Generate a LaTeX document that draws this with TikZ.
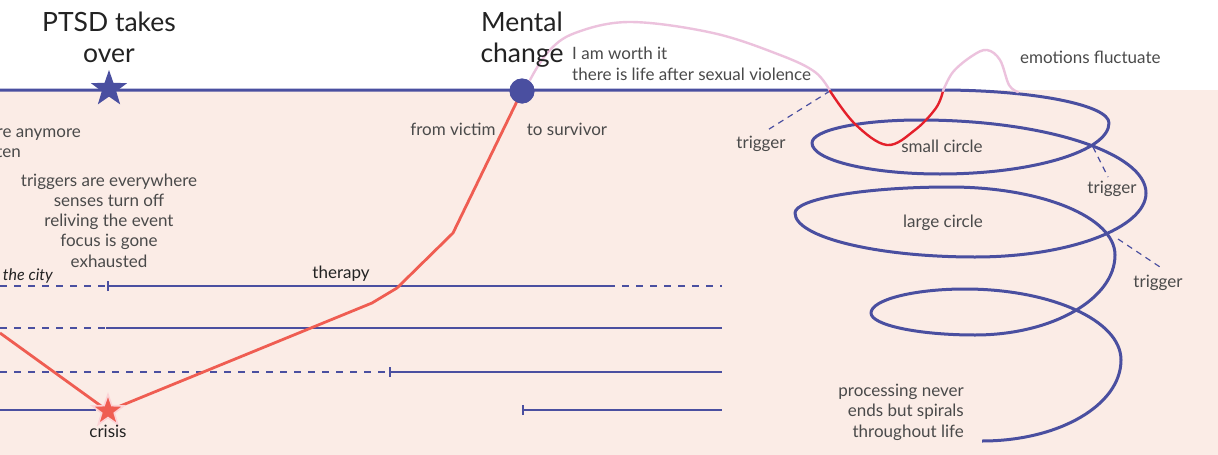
\documentclass[tikz,border=0pt]{standalone}
\usepackage{fontspec}
\setmainfont{Lato}
\usetikzlibrary{shapes.geometric}
\definecolor{ink}{HTML}{4A4A4A}
\definecolor{headink}{HTML}{222222}
\definecolor{navy}{HTML}{4A4FA0}
\definecolor{coral}{HTML}{EF5D52}
\definecolor{blush}{HTML}{FBECE6}
\definecolor{mauve}{HTML}{ECC2DD}
\definecolor{alarm}{HTML}{E4202B}
\definecolor{halo}{HTML}{FBD3D6}
\begin{document}
\begin{tikzpicture}[x=1pt,y=-1pt,
  lbl/.style={font=\fontsize{17}{20.3}\selectfont, text=ink, inner sep=0pt},
  darklbl/.style={lbl, text=headink},
  title/.style={font=\fontsize{26.5}{31}\selectfont, text=headink, align=center, inner sep=0pt},
  track/.style={navy, line width=1.6pt},
  trackdash/.style={track, dash pattern=on 7pt off 7pt},
  tickmark/.style={navy, line width=1.8pt},
  triggerline/.style={navy, line width=1.2pt, dash pattern=on 6pt off 5pt},
  coil/.style={navy, line width=3pt, line join=round},
  pathway/.style={coral, line width=2.8pt, line join=round},
  moodup/.style={mauve, line width=2.4pt, line cap=round},
  mooddown/.style={alarm, line width=2.4pt, line cap=round},
  starmark/.style={star, star points=5, star point ratio=2.5, inner sep=0pt},
]
% canvas and backgrounds
\useasboundingbox (0,0) rectangle (1218,455);
\fill[white] (0,0) rectangle (1218,455);
\fill[blush] (0,90) rectangle (1218,455);

% timeline tracks
\coordinate (t1a) at (0,286);   \coordinate (t1b) at (108,286);
\coordinate (t1c) at (608,286); \coordinate (t1d) at (722,286);
\coordinate (t2a) at (0,328);   \coordinate (t2b) at (106,328);
\coordinate (t2c) at (722,328);
\coordinate (t3a) at (0,372);   \coordinate (t3b) at (390,372);
\coordinate (t3c) at (722,372);
\coordinate (t4a) at (0,410);   \coordinate (t4b) at (96,410);
\coordinate (t4c) at (523,410); \coordinate (t4d) at (722,410);
\draw[trackdash] (t1a) -- (t1b);
\draw[track] (t1b) -- (t1c);
\draw[trackdash] (t1c) -- (t1d);
\draw[tickmark] ([yshift=-5pt]t1b) -- ([yshift=5pt]t1b);
\draw[trackdash] (t2a) -- (t2b);
\draw[track] (t2b) -- (t2c);
\draw[trackdash] (t3a) -- (t3b);
\draw[track] (t3b) -- (t3c);
\draw[tickmark] ([yshift=-5pt]t3b) -- ([yshift=5pt]t3b);
\draw[track] (t4a) -- (t4b);
\draw[track] (t4c) -- (t4d);
\draw[tickmark] ([yshift=-5pt]t4c) -- ([yshift=5pt]t4c);

% baseline that winds into the coil
\coordinate (lineStart) at (0,90);
\coordinate (coilEnd) at (982,441);
\draw[coil] (lineStart) -- (940,90)
  .. controls (1033,90) and (1109,105) .. (1109,123)
  .. controls (1109,151) and (1033,174) .. (940,174)
  .. controls (869,174) and (812,160) .. (812,143)
  .. controls (812,130) and (860,120) .. (920,120)
  .. controls (1045,120) and (1146,153) .. (1146,193)
  .. controls (1146,228) and (1069,257) .. (975,257)
  .. controls (876,257) and (795,237) .. (795,213)
  .. controls (795,199) and (864,187) .. (950,187)
  .. controls (1041,187) and (1115,217) .. (1115,255)
  .. controls (1115,299) and (1052,335) .. (975,335)
  .. controls (918,335) and (871,325) .. (871,313)
  .. controls (871,300) and (913,289) .. (965,289)
  .. controls (1050,289) and (1121,320) .. (1121,360)
  .. controls (1121,405) and (1059,441) .. (coilEnd);

% trigger leaders
\coordinate (trgA) at (830,91);
\coordinate (trgB) at (1093,147);
\coordinate (trgC) at (1118,239);
\node[lbl, anchor=base] (trigger1) at (761,148) {trigger};
\node[lbl, anchor=base] (trigger2) at (1112,193) {trigger};
\node[lbl, anchor=base] (trigger3) at (1158,287) {trigger};
\draw[triggerline] (trgA) -- (766,131);
\draw[triggerline] (trgB) -- (1108,177);
\draw[triggerline] (trgC) -- (1160,267);

% recovery pathway
\coordinate (crisisPt) at (108,411);
\node[circle, fill=navy, minimum size=25pt, inner sep=0pt] (mental) at (522,91) {};
\draw[pathway] (0,333) -- (crisisPt) -- (372,303) -- (397,288) -- (453,233) -- (mental.center);
\node[starmark, fill=coral, draw=halo, line width=1.6pt, minimum size=33pt] (crisis) at (crisisPt) {};
\node[circle, fill=navy, minimum size=25pt, inner sep=0pt] at (mental) {};
\node[starmark, fill=navy, minimum size=38pt] (ptsd) at (109,89) {};

% emotional swings above and below the line
\draw[moodup] plot[smooth, tension=0.6] coordinates
  {(530,80) (548,52) (575,33) (630,22) (713,33) (780,55) (815,72) (830,91)};
\draw[mooddown] plot[smooth, tension=0.6] coordinates
  {(830,91) (855,124) (887,145) (915,130) (936,108) (943,91)};
\draw[moodup] plot[smooth, tension=0.6] coordinates
  {(943,91) (953,72) (972,56) (987,50) (1000,60) (1009,85) (1018,92)};

% titles
\node[title, anchor=base] (ptsdTitle) at (109,31) {PTSD takes};
\node[title, anchor=base] (ptsdTitle2) at (109,62) {over};
\node[title, anchor=base] (mentalTitle) at (522,31) {Mental};
\node[title, anchor=base] (mentalTitle2) at (522,62) {change};

% labels
\node[lbl, anchor=base east] (lostA) at (81,137) {re anymore};
\node[lbl, anchor=base east] (lostB) at (21,157) {ten};
\node[lbl, anchor=base] (symp1) at (109,186) {triggers are everywhere};
\node[lbl, anchor=base] (symp2) at (109,206) {senses turn off};
\node[lbl, anchor=base] (symp3) at (109,226.5) {reliving the event};
\node[lbl, anchor=base] (symp4) at (109,246.5) {focus is gone};
\node[lbl, anchor=base] (symp5) at (109,267) {exhausted};
\node[darklbl, anchor=base east, font=\fontsize{16}{18}\itshape] (city) at (53,280) {the city};
\node[darklbl, anchor=base] (therapy) at (341,278) {therapy};
\node[darklbl, anchor=base] (crisisLbl) at (108,437) {crisis};
\node[lbl, anchor=base] (victim) at (453,135) {from victim};
\node[lbl, anchor=base] (survivor) at (567,135) {to survivor};
\node[lbl, anchor=base west] (worth1) at (572,59) {I am worth it};
\node[lbl, anchor=base west] (worth2) at (572,80) {there is life after sexual violence};
\node[lbl, anchor=base west] (fluct) at (1020,63) {emotions fluctuate};
\node[lbl, anchor=base] (small) at (942,152) {small circle};
\node[lbl, anchor=base] (large) at (943,227) {large circle};
\node[lbl, anchor=base east] (proc1) at (964,396) {processing never};
\node[lbl, anchor=base east] (proc2) at (964,416) {ends but spirals};
\node[lbl, anchor=base east] (proc3) at (964,437) {throughout life};
\end{tikzpicture}
\end{document}
